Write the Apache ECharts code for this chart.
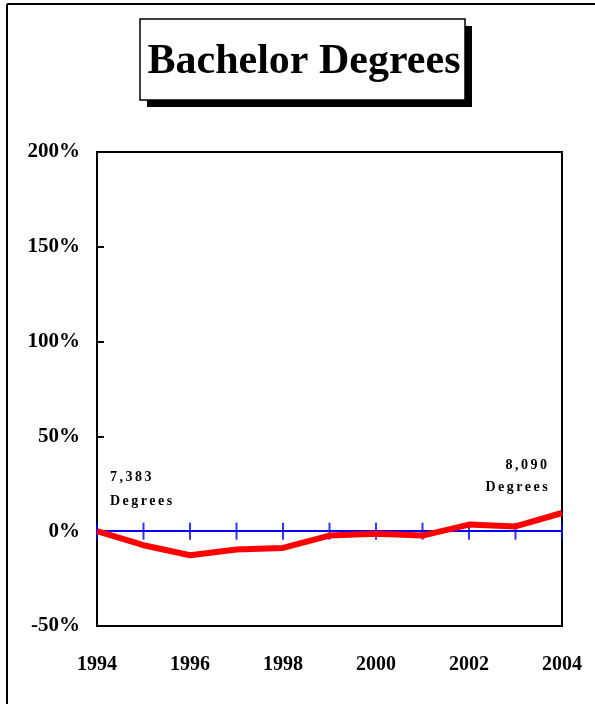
<!DOCTYPE html>
<html><head><meta charset="utf-8">
<script src="https://cdn.jsdelivr.net/npm/echarts@6/dist/echarts.min.js"></script>
<style>
html,body{margin:0;padding:0;background:#fff}
#wrap{position:relative;width:595px;height:704px}
#c{width:595px;height:704px}
.note{position:absolute;font:bold 14px "Liberation Serif","Times New Roman",serif;letter-spacing:2.5px;color:#000;white-space:nowrap;line-height:16px}
</style>
</head><body><div id="wrap"><div id="c"></div></div>
<script>
const years = ['1994','1995','1996','1997','1998','1999','2000','2001','2002','2003','2004'];
const pctChange = [0, -7.4, -12.7, -9.7, -8.8, -2.3, -1.4, -2.3, 3.5, 2.5, 9.6];
const zeroLine = [0, 0, 0, 0, 0, 0, 0, 0, 0, 0, 0];
const yTicks = {min: -50, max: 200, interval: 50};
const titleText = 'Bachelor Degrees';
const startNote = ['7,383', 'Degrees'];
const endNote = ['8,090', 'Degrees'];

const chart = echarts.init(document.getElementById('c'), null, {renderer: 'canvas'});
const serif = '"Liberation Serif", "Times New Roman", serif';
chart.setOption({
  animation: false,
  backgroundColor: '#fff',
  grid: {left: 97, top: 152, right: 33, bottom: 78, show: true, borderColor: '#000', borderWidth: 2},
  xAxis: [
    {
      type: 'category', data: years, boundaryGap: false, position: 'bottom',
      axisLine: {onZero: false, lineStyle: {color: '#000', width: 2}},
      axisTick: {show: false},
      axisLabel: {interval: 1, margin: 29, color: '#000', fontFamily: serif, fontWeight: 'bold', fontSize: 20}
    },
    {
      type: 'category', data: years, boundaryGap: false, position: 'top',
      axisLine: {onZero: true, lineStyle: {color: '#0000ff', width: 2}},
      axisTick: {show: false},
      axisLabel: {show: false}
    }
  ],
  yAxis: {
    type: 'value', min: yTicks.min, max: yTicks.max, interval: yTicks.interval,
    splitLine: {show: false},
    axisLine: {show: true, lineStyle: {color: '#000', width: 2}},
    axisTick: {show: true, inside: true, length: 7, lineStyle: {color: '#000', width: 2}},
    axisLabel: {formatter: '{value}%', margin: 17, color: '#000', fontFamily: serif, fontWeight: 'bold', fontSize: 21}
  },
  series: [
    {
      type: 'scatter', data: zeroLine, xAxisIndex: 1, symbol: 'rect', symbolSize: [2, 17],
      itemStyle: {color: '#0000ff'}, silent: true, z: 3
    },
    {
      type: 'line', data: pctChange, xAxisIndex: 0, showSymbol: false, symbol: 'none',
      lineStyle: {color: '#ff0000', width: 6}, z: 5
    }
  ],
  graphic: [
    {type: 'line', shape: {x1: 7, y1: 4, x2: 7, y2: 704}, style: {stroke: '#000', lineWidth: 2}},
    {type: 'line', shape: {x1: 7, y1: 4, x2: 595, y2: 4}, style: {stroke: '#000', lineWidth: 2}},
    {type: 'rect', shape: {x: 147, y: 26, width: 325, height: 81}, style: {fill: '#000'}},
    {type: 'rect', shape: {x: 140, y: 19, width: 325, height: 81}, style: {fill: '#fff', stroke: '#000', lineWidth: 1.5}},
    {type: 'text', x: 304, y: 62, style: {text: titleText, align: 'center', verticalAlign: 'middle', font: 'bold 42px ' + serif, fill: '#000'}}
  ]
});

function addNote(text, x, yCenter, alignRight) {
  const d = document.createElement('div');
  d.className = 'note';
  d.textContent = text;
  d.style.top = (yCenter - 8) + 'px';
  document.getElementById('wrap').appendChild(d);
  if (alignRight) d.style.left = (x + 2.5 - d.offsetWidth) + 'px';
  else d.style.left = x + 'px';
}
addNote(startNote[0], 110, 477, false);
addNote(startNote[1], 110, 501, false);
addNote(endNote[0], 547, 465, true);
addNote(endNote[1], 548, 487, true);
</script></body></html>
